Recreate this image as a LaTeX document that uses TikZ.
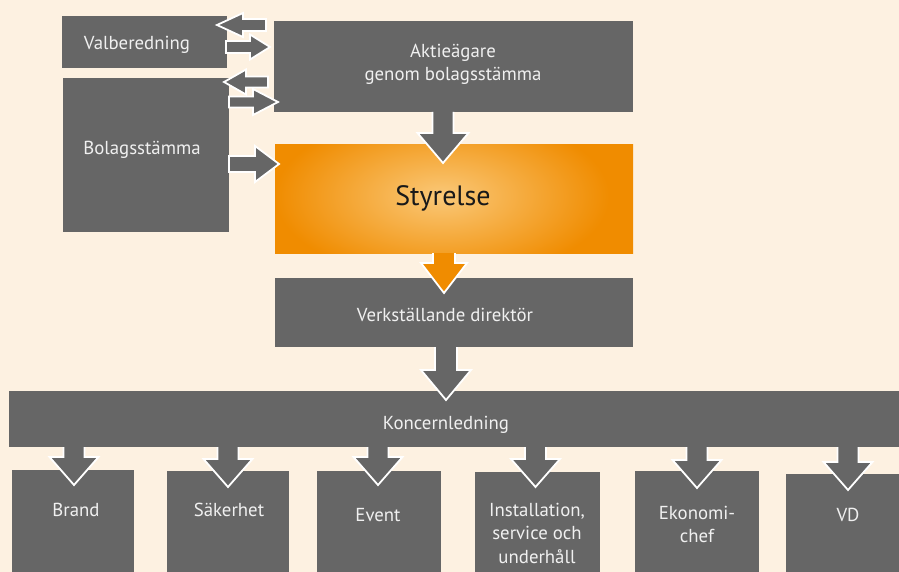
\documentclass[tikz,border=0pt]{standalone}
\usepackage{fontspec}
\setmainfont{PT Sans}
\usetikzlibrary{calc}
\definecolor{bg}{HTML}{FDF1E1}
\definecolor{boxgray}{HTML}{666666}
\definecolor{txt}{HTML}{F0F0F0}
\definecolor{orng}{HTML}{F08C00}
\definecolor{ctr}{HTML}{FAC878}
\pgfdeclareradialshading{glow}{\pgfpoint{0bp}{0bp}}{color(0bp)=(ctr); color(19bp)=(orng); color(50bp)=(orng)}
% #1 start, #2 tip, #3 shaft half width, #4 head half width, #5 head length, #6 fill, #7 closing
\newcommand\blockarrow[7]{%
  \coordinate (ba-b) at ($(#2)!#5!(#1)$);
  \fill[#6] ($(#1)!#3!90:(#2)$) -- ($(ba-b)!#3!90:(#2)$) -- ($(ba-b)!#4!90:(#2)$) -- (#2)
     -- ($(ba-b)!#4!-90:(#2)$) -- ($(ba-b)!#3!-90:(#2)$) -- ($(#1)!#3!-90:(#2)$) -- cycle;
  \draw[white, line width=1.8pt, line join=miter] ($(#1)!#3!90:(#2)$) -- ($(ba-b)!#3!90:(#2)$) -- ($(ba-b)!#4!90:(#2)$) -- (#2)
     -- ($(ba-b)!#4!-90:(#2)$) -- ($(ba-b)!#3!-90:(#2)$) -- ($(#1)!#3!-90:(#2)$) #7;
}
\tikzset{
  gbox/.style={fill=boxgray, draw=none, inner sep=0pt, outer sep=0pt},
  lbl/.style={text=txt, inner sep=0pt, align=center, font=\fontsize{18.8}{23.5}\selectfont},
}
\begin{document}
\begin{tikzpicture}[x=1pt, y=-1pt]
\fill[bg] (0,0) rectangle (899,572);
\useasboundingbox (0,0) rectangle (899,572);
% boxes
\node[gbox, minimum width=165pt, minimum height=52pt] (val) at (144.5,42) {};
\node[gbox, minimum width=359pt, minimum height=91pt] (akt) at (453.5,66.5) {};
\node[gbox, minimum width=166pt, minimum height=154pt] (bol) at (146,155) {};
\node[inner sep=0pt, outer sep=0pt, minimum width=358pt, minimum height=108pt] (styr) at (454,199) {};
\begin{scope}
  \clip (styr.south west) rectangle (styr.north east);
  \shade[shading=glow] (222,86) rectangle (662,306);
\end{scope}
\node[gbox, minimum width=358pt, minimum height=69pt] (vd) at (454,312.5) {};
\node[gbox, minimum width=890pt, minimum height=56pt] (kon) at (454,419) {};
\node[gbox, minimum width=122pt, minimum height=102pt] (brand) at (73,521) {};
\node[gbox, minimum width=122pt, minimum height=101pt] (sak) at (228,521.5) {};
\node[gbox, minimum width=124pt, minimum height=101pt] (event) at (379,521.5) {};
\node[gbox, minimum width=125pt, minimum height=100pt] (inst) at (537.5,522) {};
\node[gbox, minimum width=124pt, minimum height=101pt] (eko) at (697,521.5) {};
\node[gbox, minimum width=113pt, minimum height=98pt] (vdb) at (842.5,523) {};
% arrow end points
\coordinate (h1s) at (266,25);  \coordinate (h1t) at (217,25);
\coordinate (h2s) at (226,47);  \coordinate (h2t) at (270,47);
\coordinate (h3s) at (268,82);  \coordinate (h3t) at (224,82);
\coordinate (h4s) at (229,102); \coordinate (h4t) at (278,102);
\coordinate (h5s) at (229,164); \coordinate (h5t) at (279,164);
\coordinate (vAs) at (443,112); \coordinate (vAt) at (443,163);
\coordinate (vBs) at (444,253); \coordinate (vBt) at (444,293);
\coordinate (vCs) at (446,347); \coordinate (vCt) at (446,400);
% arrows
\blockarrow{h1s}{h1t}{6pt}{12pt}{26pt}{boxgray}{-- cycle}
\blockarrow{h2s}{h2t}{6pt}{12.5pt}{20pt}{boxgray}{-- cycle}
\blockarrow{h3s}{h3t}{5.5pt}{12.5pt}{22pt}{boxgray}{-- cycle}
\blockarrow{h4s}{h4t}{5.5pt}{13pt}{25pt}{boxgray}{-- cycle}
\blockarrow{h5s}{h5t}{8pt}{18pt}{24pt}{boxgray}{-- cycle}
\blockarrow{vAs}{vAt}{10.5pt}{25.5pt}{30pt}{boxgray}{}
\blockarrow{vBs}{vBt}{11pt}{23pt}{30pt}{orng}{}
\blockarrow{vCs}{vCt}{11pt}{25pt}{30pt}{boxgray}{}
\foreach \n/\x/\t in {b1/74/485, b2/228/487, b3/378/485, b4/535.5/487, b5/697/488, b6/848/490}{
  \coordinate (\n s) at (\x,447); \coordinate (\n t) at (\x,\t);
  \blockarrow{\n s}{\n t}{10.5pt}{24.5pt}{28pt}{boxgray}{}
}
% labels
\node[lbl] (valT) at (137,45) {Valberedning};
\node[lbl] (aktT) at (453,64.5) {Aktieägare\\genom bolagsstämma};
\node[lbl] (bolT) at (142,150) {Bolagsstämma};
\node[lbl, text=black!90, font=\fontsize{28}{32}\selectfont] (styrT) at (443,198) {Styrelse};
\node[lbl] (vdT) at (445,314.5) {Verkställande direktör};
\node[lbl] (konT) at (446,425) {Koncernledning};
\node[lbl] (brandT) at (76,510) {Brand};
\node[lbl] (sakT) at (229,510) {Säkerhet};
\node[lbl] (eventT) at (378,515) {Event};
\node[lbl] (instT) at (537,533) {Installation,\\service och\\underhåll};
\node[lbl] (ekoT) at (697,524.5) {Ekonomi-\\chef};
\node[lbl] (vdbT) at (848,515) {VD};
\end{tikzpicture}
\end{document}
